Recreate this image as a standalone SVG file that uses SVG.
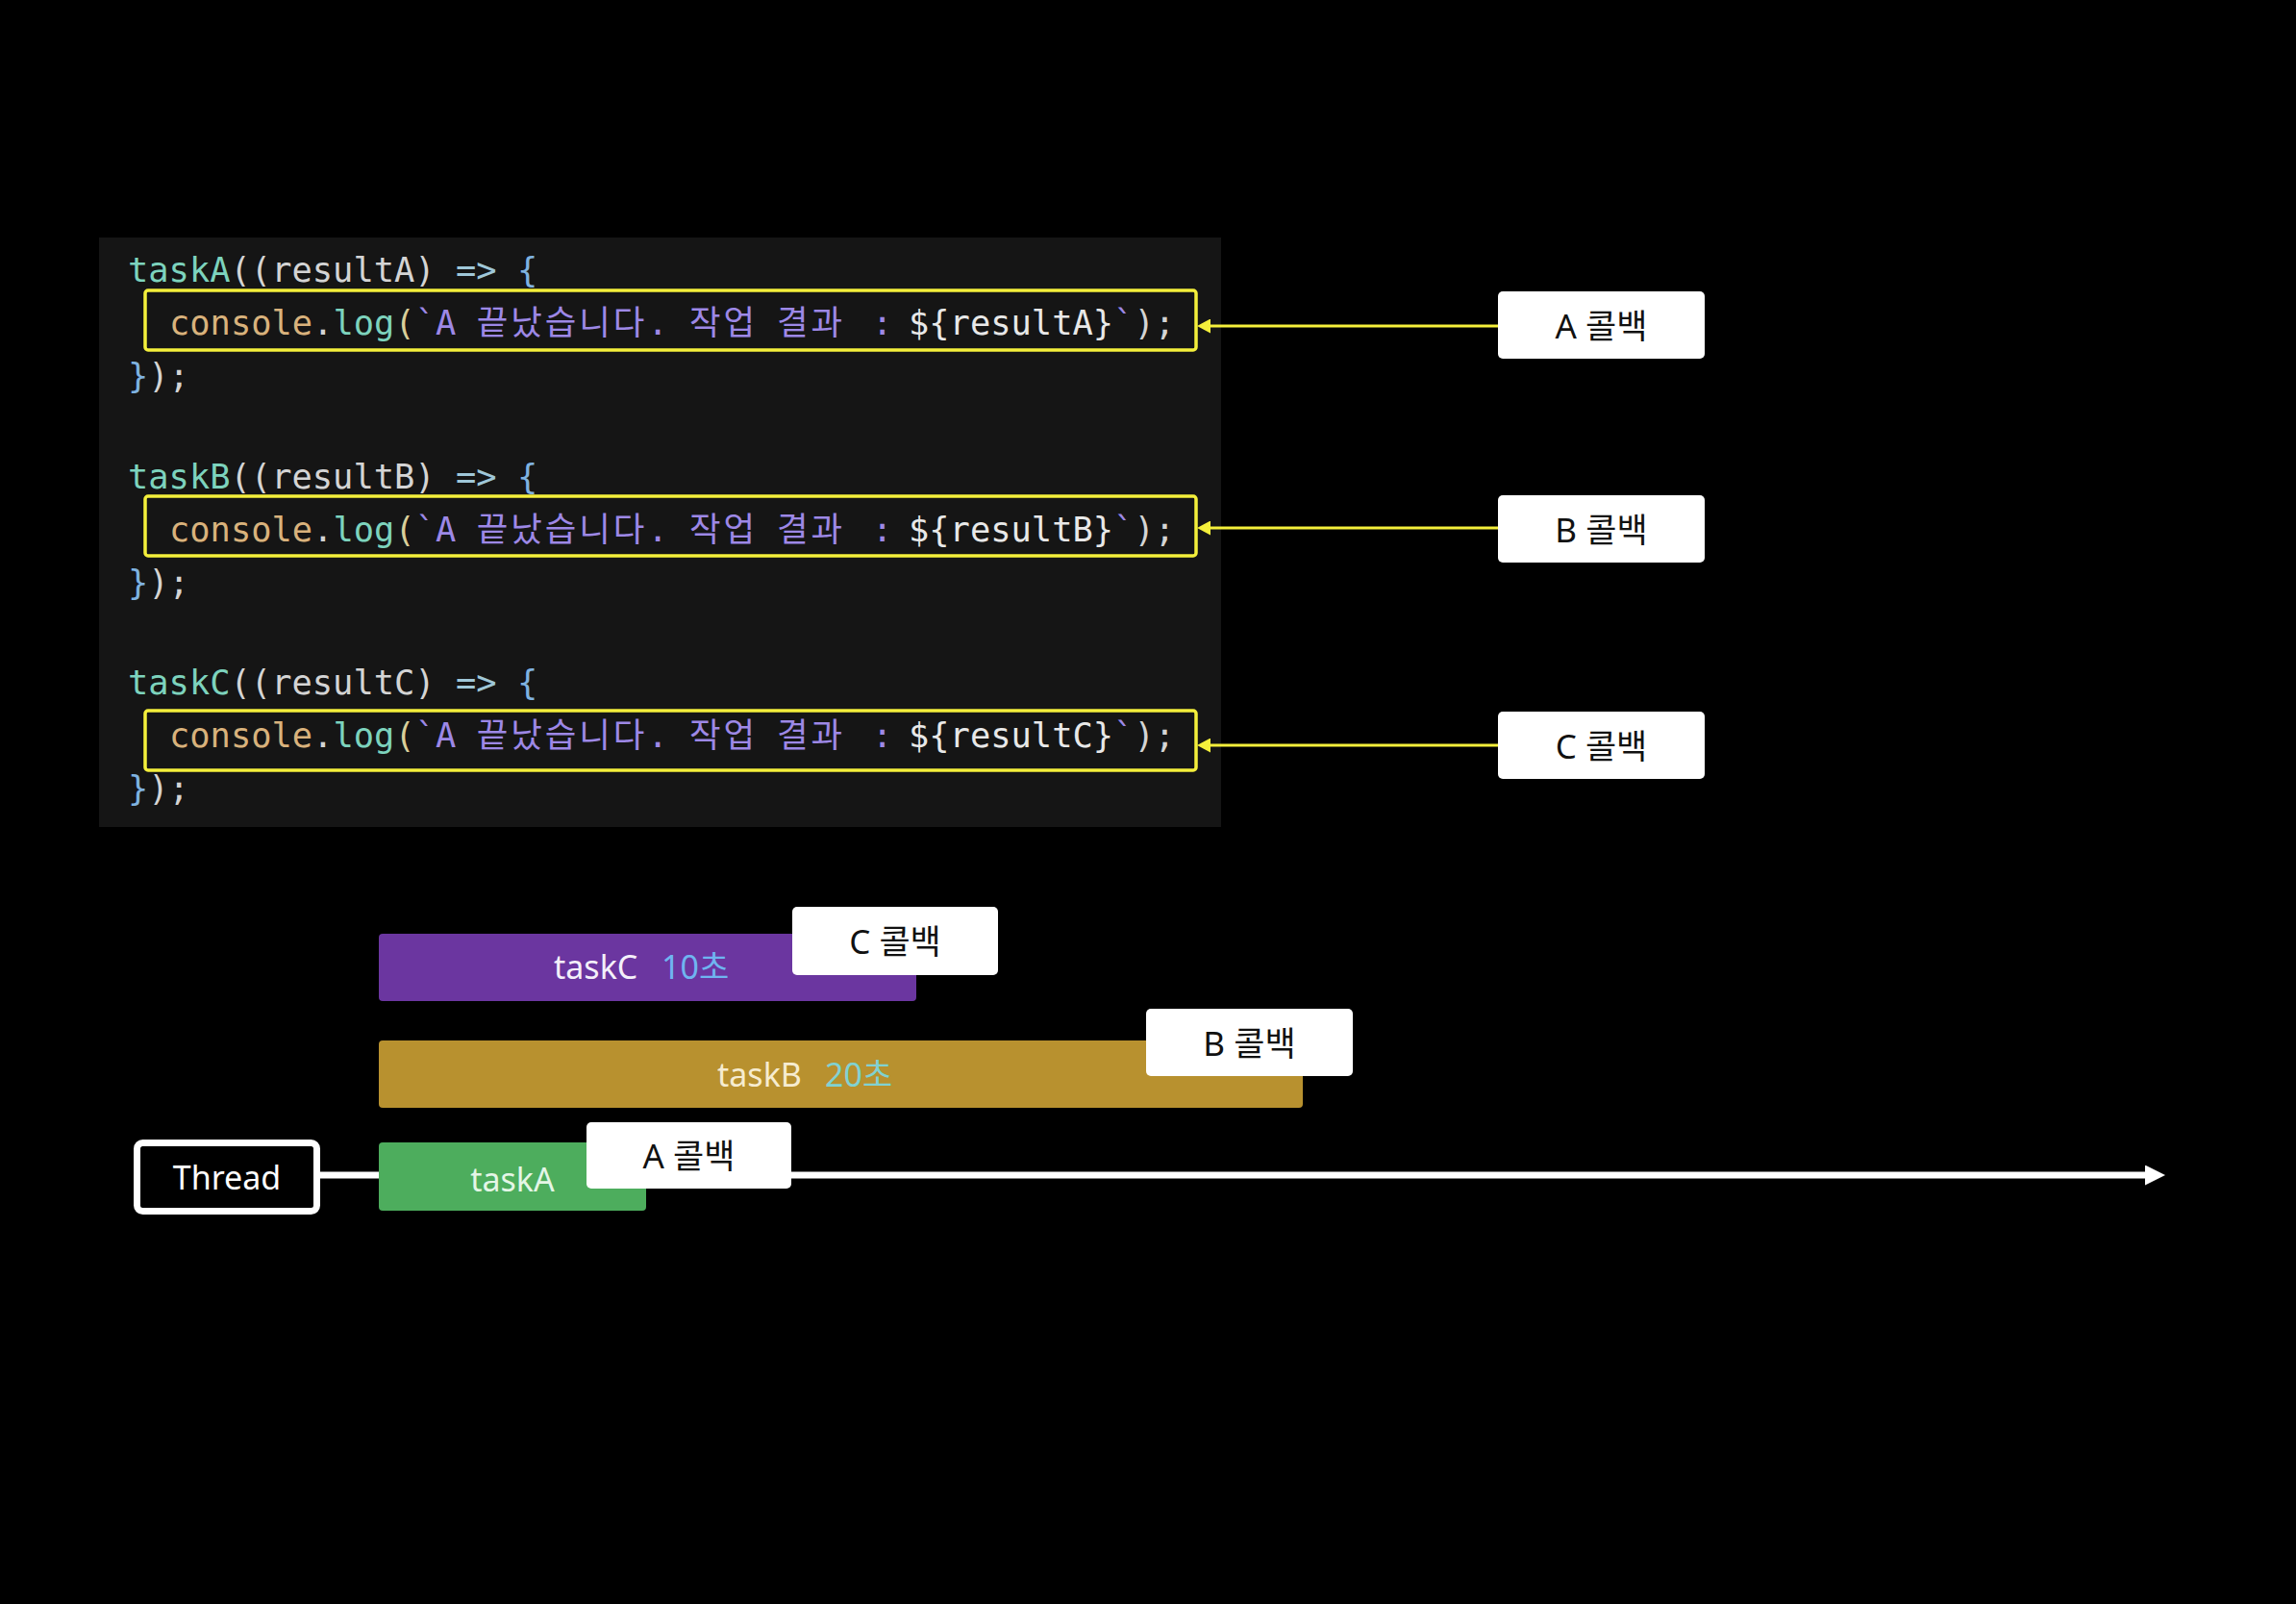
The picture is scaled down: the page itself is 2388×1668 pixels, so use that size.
<svg xmlns="http://www.w3.org/2000/svg" width="2388" height="1668" viewBox="0 0 2388 1668">
<style>
.code{font-family:"DejaVu Sans Mono","Noto Sans CJK KR",monospace;font-size:35.4px;fill:#d4d4d4}
.fn{fill:#7dd3bd}.obj{fill:#d9b27c}.str{fill:#9d88e6}.par{fill:#d9cf9a}.op{fill:#9fc7d8}.br{fill:#7fb2e0}.var{fill:#e8e8e8}
.ko{letter-spacing:3px}
.hl{fill:none;stroke:#f4ef3b;stroke-width:3.5}
.cb rect{fill:#ffffff}
.cb text{font-family:"Noto Sans","Noto Sans CJK KR",sans-serif;font-size:35px;fill:#111111;text-anchor:middle}
.bar text{font-family:"Noto Sans","Noto Sans CJK KR",sans-serif;font-size:34px}
.yl{stroke:#f4ef3b;stroke-width:3;fill:none}
</style>
<defs>
<marker id="ya" markerUnits="userSpaceOnUse" markerWidth="14" markerHeight="15" refX="2" refY="7.5" orient="auto"><path d="M0,0 L14,7.5 L0,15 z" fill="#f4ef3b"/></marker>
<marker id="wa" markerUnits="userSpaceOnUse" markerWidth="21" markerHeight="21" refX="2" refY="10.5" orient="auto"><path d="M0,0 L21,10.5 L0,21 z" fill="#ffffff"/></marker>
</defs>
<rect x="0" y="0" width="2388" height="1668" fill="#000000"/>

<g id="code-panel">
<rect x="103" y="247" width="1167" height="613" fill="#151515"/>
<text class="code" x="133" y="293"><tspan class="fn">taskA</tspan>((resultA) <tspan class="op">=&gt;</tspan> <tspan class="br">{</tspan></text>
<text class="code" x="176" y="348"><tspan class="obj">console</tspan>.<tspan class="fn">log</tspan><tspan class="par">(</tspan><tspan class="str">`A </tspan><tspan class="str ko">끝났습니다</tspan><tspan class="str">. </tspan><tspan class="str ko" x="717">작업</tspan><tspan class="str ko" x="808">결과</tspan><tspan class="str" x="907">: </tspan><tspan class="var" x="945">${resultA}</tspan><tspan class="str">`</tspan>);</text>
<text class="code" x="133" y="403"><tspan class="br">}</tspan>);</text>
<text class="code" x="133" y="508"><tspan class="fn">taskB</tspan>((resultB) <tspan class="op">=&gt;</tspan> <tspan class="br">{</tspan></text>
<text class="code" x="176" y="563"><tspan class="obj">console</tspan>.<tspan class="fn">log</tspan><tspan class="par">(</tspan><tspan class="str">`A </tspan><tspan class="str ko">끝났습니다</tspan><tspan class="str">. </tspan><tspan class="str ko" x="717">작업</tspan><tspan class="str ko" x="808">결과</tspan><tspan class="str" x="907">: </tspan><tspan class="var" x="945">${resultB}</tspan><tspan class="str">`</tspan>);</text>
<text class="code" x="133" y="618"><tspan class="br">}</tspan>);</text>
<text class="code" x="133" y="722"><tspan class="fn">taskC</tspan>((resultC) <tspan class="op">=&gt;</tspan> <tspan class="br">{</tspan></text>
<text class="code" x="176" y="777"><tspan class="obj">console</tspan>.<tspan class="fn">log</tspan><tspan class="par">(</tspan><tspan class="str">`A </tspan><tspan class="str ko">끝났습니다</tspan><tspan class="str">. </tspan><tspan class="str ko" x="717">작업</tspan><tspan class="str ko" x="808">결과</tspan><tspan class="str" x="907">: </tspan><tspan class="var" x="945">${resultC}</tspan><tspan class="str">`</tspan>);</text>
<text class="code" x="133" y="832"><tspan class="br">}</tspan>);</text>
</g>

<g id="highlight-a"><rect class="hl" x="151" y="302" width="1093" height="62" rx="3"/></g>
<g id="highlight-b"><rect class="hl" x="151" y="516" width="1093" height="62" rx="3"/></g>
<g id="highlight-c"><rect class="hl" x="151" y="739" width="1093" height="62" rx="3"/></g>

<g id="connectors">
<line class="yl" x1="1558" y1="339" x2="1257" y2="339" marker-end="url(#ya)"/>
<line class="yl" x1="1558" y1="549" x2="1257" y2="549" marker-end="url(#ya)"/>
<line class="yl" x1="1558" y1="775" x2="1257" y2="775" marker-end="url(#ya)"/>
<line x1="333" y1="1222" x2="2233" y2="1222" stroke="#ffffff" stroke-width="7" marker-end="url(#wa)"/>
</g>

<g id="label-a-callback" class="cb"><rect x="1558" y="303" width="215" height="70" rx="5"/><text x="1665.5" y="352">A 콜백</text></g>
<g id="label-b-callback" class="cb"><rect x="1558" y="515" width="215" height="70" rx="5"/><text x="1665.5" y="564">B 콜백</text></g>
<g id="label-c-callback" class="cb"><rect x="1558" y="740" width="215" height="70" rx="5"/><text x="1665.5" y="789">C 콜백</text></g>

<g id="thread">
<rect x="142.5" y="1188.5" width="187" height="71" rx="6" fill="#000000" stroke="#ffffff" stroke-width="7"/>
<text x="236" y="1237" font-family="Noto Sans, sans-serif" font-size="34" fill="#ffffff" text-anchor="middle">Thread</text>
</g>

<g id="taskC-bar" class="bar">
<rect x="394" y="971" width="559" height="70" rx="4" fill="#6b36a0"/>
<text x="576" y="1018" fill="#f4f0fa">taskC</text><text x="688" y="1018" fill="#6fb5f0">10초</text>
</g>
<g id="taskC-callback" class="cb"><rect x="824" y="943" width="214" height="71" rx="5"/><text x="931" y="992">C 콜백</text></g>

<g id="taskB-bar" class="bar">
<rect x="394" y="1082" width="961" height="70" rx="4" fill="#b8912f"/>
<text x="746" y="1130" fill="#f6ecd0">taskB</text><text x="858" y="1130" fill="#80d2d2">20초</text>
</g>
<g id="taskB-callback" class="cb"><rect x="1192" y="1049" width="215" height="70" rx="5"/><text x="1299.5" y="1098">B 콜백</text></g>

<g id="taskA-bar" class="bar">
<rect x="394" y="1188" width="278" height="71" rx="4" fill="#4dad5d"/>
<text x="533" y="1239" fill="#e4f6e6" text-anchor="middle">taskA</text>
</g>
<g id="taskA-callback" class="cb"><rect x="610" y="1167" width="213" height="69" rx="5"/><text x="716.5" y="1215">A 콜백</text></g>
</svg>
